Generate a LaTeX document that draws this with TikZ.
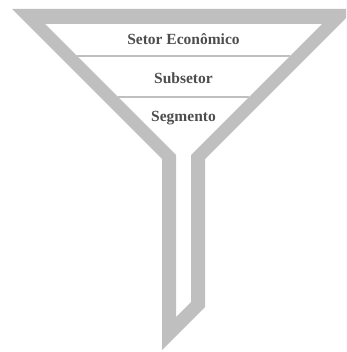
\documentclass[tikz,border=0pt]{standalone}
\usepackage{fontspec}
\setmainfont{Liberation Serif}
\definecolor{funnelgray}{RGB}{191, 191, 191}
\definecolor{labelgray}{RGB}{77, 77, 77}
\usetikzlibrary{positioning}
\tikzset{
  % Funnel body (gray band between outer and inner outline).
  funnel/.style={
    fill=funnelgray, draw=none, even odd rule,
  },
  % Thin separators between the levels.
  divider/.style={
    draw=funnelgray, line width=2.4pt,
  },
  % Level labels.
  level-label/.style={
    font=\fontsize{15.5}{18}\selectfont\bfseries,
    text=labelgray, anchor=base, inner sep=0pt,
  },
}
\begin{document}
\begin{tikzpicture}[x=1pt, y=-1pt]

  \useasboundingbox (0, 0) rectangle (346, 352);
  \clip (0, 0) rectangle (346, 352);

  % Funnel outline: outer path, then inner cut-out.
  \fill[funnel]
    (12, 9) -- (355, 9) -- (205, 159) -- (205, 307) -- (162, 350)
      -- (162, 159) -- cycle
    (45, 24) -- (322, 24) -- (191, 155) -- (191, 302) -- (176, 317)
      -- (176, 155) -- cycle;

  % Coordinates on the inner walls for the dividers.
  \coordinate (d1l) at (77, 56);
  \coordinate (d1r) at (290, 56);
  \coordinate (d2l) at (118, 97);
  \coordinate (d2r) at (249, 97);
  \draw[divider] (d1l) -- (d1r);
  \draw[divider] (d2l) -- (d2r);

  % Levels, top to bottom.
  \node[level-label] (setor) at (183.5, 45) {Setor Econômico};
  \node[level-label] (subsetor) at (183.5, 84) {Subsetor};
  \node[level-label] (segmento) at (183.5, 122) {Segmento};

\end{tikzpicture}
\end{document}
